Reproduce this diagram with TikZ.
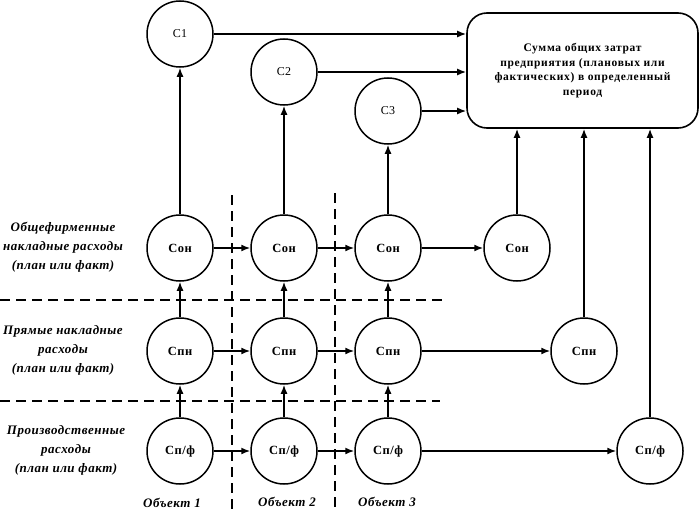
\documentclass[tikz,border=0pt]{standalone}
\usepackage{fontspec}
\setmainfont{Liberation Serif}
\newfontfamily\boxfont[LetterSpace=6]{Liberation Serif}
\newfontfamily\lblfont[LetterSpace=4]{Liberation Serif}
\usetikzlibrary{arrows.meta,calc}
\tikzset{
  cnode/.style={circle,draw,line width=1.5pt,minimum size=66pt,inner sep=0pt,font=\lblfont\fontsize{12.5}{14}\selectfont\bfseries},
  snode/.style={cnode,font=\lblfont\fontsize{12}{14}\selectfont},
  sumbox/.style={draw,line width=1.6pt,rounded corners=20pt,minimum width=231pt,minimum height=115pt,align=center,inner sep=2pt,
    font=\boxfont\fontsize{11.5}{14.7}\selectfont\bfseries},
  sidelbl/.style={align=center,font=\lblfont\fontsize{13}{19}\selectfont\bfseries\itshape},
  objlbl/.style={font=\lblfont\fontsize{13}{14}\selectfont\bfseries\itshape},
  conn/.style={line width=1.6pt,-{Latex[length=9pt,width=7pt]}},
  sep/.style={line width=1.6pt,dash pattern=on 10pt off 6pt},
}
\begin{document}
\begin{tikzpicture}[x=1pt,y=-1pt]
\useasboundingbox (0,0) rectangle (700,511);
% separators
\draw[sep] (0,300) -- (445,300);
\draw[sep] (0,401) -- (440,401);
\draw[sep] (232,195) -- (232,511);
\draw[sep] (335,193) -- (335,511);
% nodes
\node[sumbox] (box) at (582.5,70.5) {Сумма общих затрат\\предприятия (плановых или\\фактических) в определенный\\период};
\node[snode] (c1) at (180,34) {С1};
\node[snode] (c2) at (284,72) {С2};
\node[snode] (c3) at (388,111) {С3};
\node[cnode] (on1) at (180,248) {Сон};
\node[cnode] (on2) at (284,248) {Сон};
\node[cnode] (on3) at (388,248) {Сон};
\node[cnode] (on4) at (517,248) {Сон};
\node[cnode] (pn1) at (180,351) {Спн};
\node[cnode] (pn2) at (284,351) {Спн};
\node[cnode] (pn3) at (388,351) {Спн};
\node[cnode] (pn4) at (584,351) {Спн};
\node[cnode] (pf1) at (180,451) {Сп/ф};
\node[cnode] (pf2) at (284,451) {Сп/ф};
\node[cnode] (pf3) at (388,451) {Сп/ф};
\node[cnode] (pf4) at (650,451) {Сп/ф};
% labels
\node[sidelbl] (l1) at (63,247) {Общефирменные\\накладные расходы\\(план или факт)};
\node[sidelbl] (l2) at (63,350) {Прямые накладные\\расходы\\(план или факт)};
\node[sidelbl] (l3) at (66,450) {Производственные\\расходы\\(план или факт)};
\node[objlbl] (o1) at (172,503) {Объект 1};
\node[objlbl] (o2) at (287,502) {Объект 2};
\node[objlbl] (o3) at (387,502) {Объект 3};
% row connectors
\draw[conn] (on1) -- (on2);
\draw[conn] (on2) -- (on3);
\draw[conn] (on3) -- (on4);
\draw[conn] (pn1) -- (pn2);
\draw[conn] (pn2) -- (pn3);
\draw[conn] (pn3) -- (pn4);
\draw[conn] (pf1) -- (pf2);
\draw[conn] (pf2) -- (pf3);
\draw[conn] (pf3) -- (pf4);
% vertical connectors
\foreach \i in {1,2,3}{
  \draw[conn] (pf\i) -- (pn\i);
  \draw[conn] (pn\i) -- (on\i);
  \draw[conn] (on\i) -- (c\i);
  \draw[conn] (c\i.east) -- (c\i.east -| box.west);
}
\draw[conn] (on4.north) -- (on4.north |- box.south);
\draw[conn] (pn4.north) -- (pn4.north |- box.south);
\draw[conn] (pf4.north) -- (pf4.north |- box.south);
\end{tikzpicture}
\end{document}
